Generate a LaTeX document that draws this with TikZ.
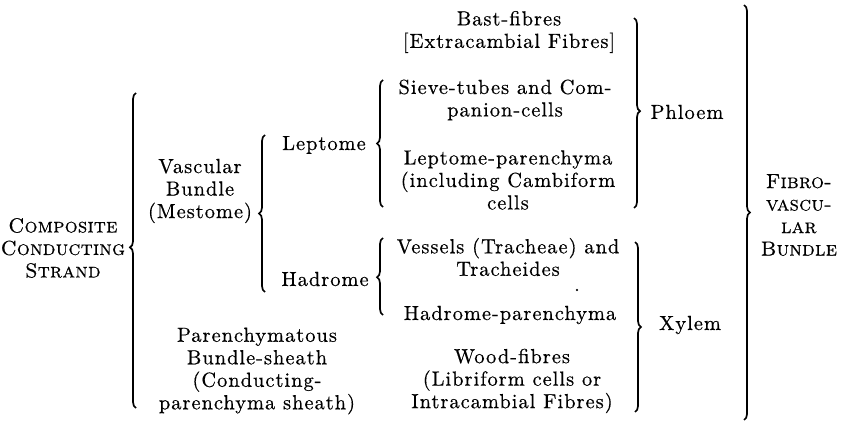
\documentclass[tikz,border=0pt]{standalone}
\usepackage{fontspec}
\usetikzlibrary{decorations.pathreplacing}
\newfontfamily\tablefont{lmroman10-regular.otf}[LetterSpace=5, FakeBold=0.5, SmallCapsFont=lmromancaps10-regular.otf, SmallCapsFeatures={LetterSpace=1, FakeBold=0.5}]

\begin{document}
\begin{tikzpicture}[x=0.5pt, y=-0.5pt, entry/.style={align=center, inner sep=0pt, font=\tablefont\fontsize{10.2}{11.25}\selectfont}, bracket/.style={decorate, decoration={brace, amplitude=3pt, aspect=#1}, line width=0.85pt}]
			\useasboundingbox (0,0) rectangle (845,422);
			% left side
			\node[entry] (strand) at (63,248) {\textsc{Composite}\\\textsc{Conducting}\\\textsc{Strand}};
			\node[entry] (vascular) at (200,191) {Vascular\\Bundle\\(Mestome)};
			\node[entry] (sheath) at (257,371) {Parenchymatous\\Bundle-sheath\\(Conducting-\\parenchyma sheath)};
			\node[entry] (leptome) at (324,145) {Leptome};
			\node[entry] (hadrome) at (325,279) {Hadrome};
			% middle column
			\node[entry] (bast) at (509,32) {Bast-fibres\\{[}Extracambial Fibres]};
			\node[entry] (sieve) at (505,100) {Sieve-tubes and Com-\\panion-cells};
			\node[entry] (lparench) at (508,180) {Leptome-parenchyma\\(including Cambiform\\cells};
			\node[entry] (vessels) at (508,257) {Vessels (Tracheae) and\\Tracheides};
			\node[entry] (speck) at (577,290) {.};
			\node[entry] (hparench) at (510,315) {Hadrome-parenchyma};
			\node[entry] (wood) at (512,381) {Wood-fibres\\(Libriform cells or\\Intracambial Fibres)};
			% right side
			\node[entry] (phloem) at (687,112) {Phloem};
			\node[entry] (xylem) at (690,325) {Xylem};
			\node[entry] (fibro) at (799,215) {\textsc{Fibro-}\\\textsc{vascu-}\\\textsc{lar}\\\textsc{Bundle}};
			% brace ends
			\coordinate (strand-t) at (136,93);
			\coordinate (strand-b) at (136,408);
			\coordinate (mestome-t) at (265,135);
			\coordinate (mestome-b) at (265,292);
			\coordinate (leptome-t) at (383,80);
			\coordinate (leptome-b) at (383,207);
			\coordinate (hadrome-t) at (383,238);
			\coordinate (hadrome-b) at (383,315);
			\coordinate (phloem-t) at (634,18);
			\coordinate (phloem-b) at (634,208);
			\coordinate (xylem-t) at (635,242);
			\coordinate (xylem-b) at (635,412);
			\coordinate (fibro-t) at (744,5);
			\coordinate (fibro-b) at (744,420);
			\draw[bracket=0.51] (strand-b) -- (strand-t);
			\draw[bracket=0.50] (mestome-b) -- (mestome-t);
			\draw[bracket=0.50] (leptome-b) -- (leptome-t);
			\draw[bracket=0.49] (hadrome-b) -- (hadrome-t);
			\draw[bracket=0.49] (phloem-t) -- (phloem-b);
			\draw[bracket=0.50] (xylem-t) -- (xylem-b);
			\draw[bracket=0.50] (fibro-t) -- (fibro-b);
			\end{tikzpicture}
\end{document}
